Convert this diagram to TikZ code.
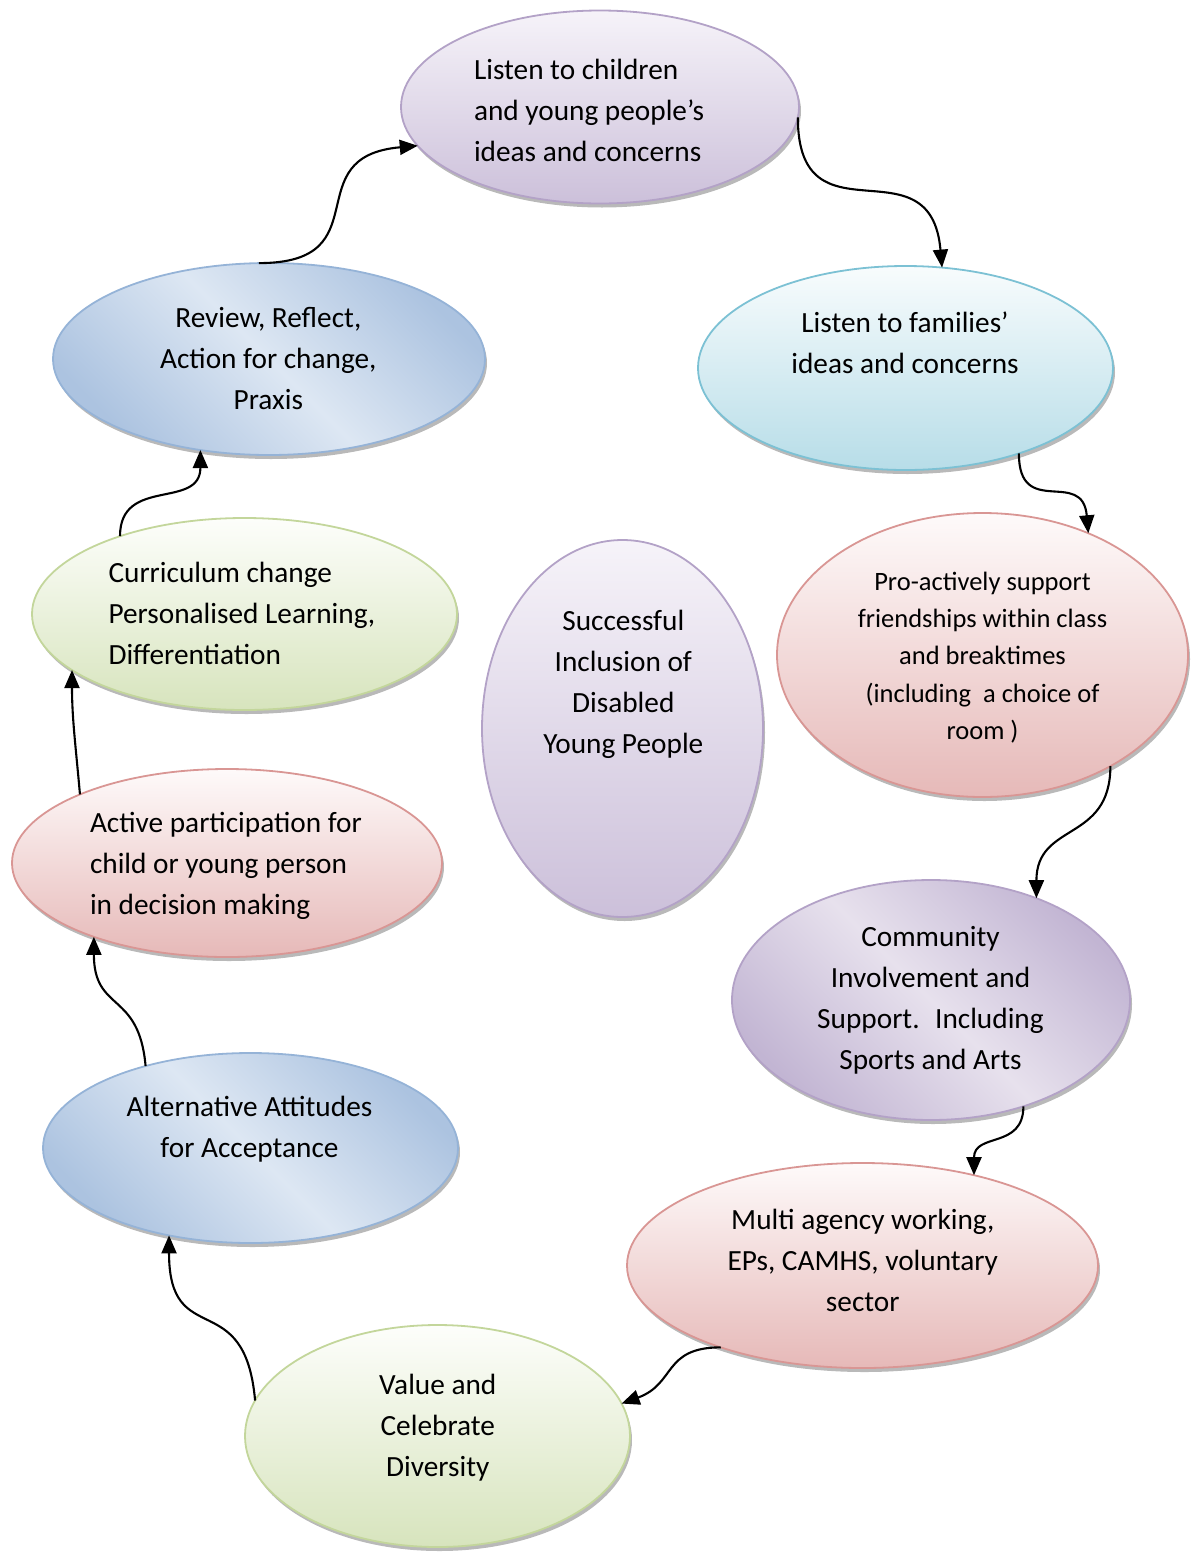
\documentclass[tikz,border=0pt]{standalone}
\usepackage{fontspec}
\setmainfont{Carlito}
\usetikzlibrary{shapes.geometric,arrows.meta,shadows}
\definecolor{purB}{RGB}{179,162,199}
\definecolor{purT}{RGB}{246,243,249}
\definecolor{purD}{RGB}{204,192,218}
\definecolor{purM}{RGB}{231,225,237}
\definecolor{purE}{RGB}{194,181,211}
\definecolor{cyaB}{RGB}{124,193,212}
\definecolor{cyaT}{RGB}{248,252,253}
\definecolor{cyaD}{RGB}{183,221,232}
\definecolor{pinB}{RGB}{217,150,148}
\definecolor{pinT}{RGB}{254,250,250}
\definecolor{pinD}{RGB}{230,185,184}
\definecolor{grnB}{RGB}{195,214,155}
\definecolor{grnT}{RGB}{253,254,251}
\definecolor{grnD}{RGB}{215,228,189}
\definecolor{bluB}{RGB}{149,179,215}
\definecolor{bluM}{RGB}{221,231,243}
\definecolor{bluE}{RGB}{172,195,224}
\begin{document}
\begin{tikzpicture}[x=1pt,y=1pt,
  ell/.style={ellipse,inner sep=0pt,outer sep=0pt,line width=1.8pt,
    general shadow={fill=black!55,opacity=0.5,shadow xshift=2pt,shadow yshift=-4pt}},
  purV/.style={ell,draw=purB,top color=purT,bottom color=purD},
  purG/.style={ell,draw=purB,top color=purE,bottom color=purE,middle color=purM,shading angle=-45},
  cyaV/.style={ell,draw=cyaB,top color=cyaT,bottom color=cyaD},
  pinV/.style={ell,draw=pinB,top color=pinT,bottom color=pinD},
  grnV/.style={ell,draw=grnB,top color=grnT,bottom color=grnD},
  bluG/.style={ell,draw=bluB,top color=bluE,bottom color=bluE,middle color=bluM,shading angle=-45},
  txt/.style={inner sep=0pt,outer sep=0pt,font=\fontsize{29.3}{41}\selectfont,align=center,anchor=north},
  txtl/.style={txt,align=left,anchor=north west},
  txts/.style={txt,font=\fontsize{26.5}{37.4}\selectfont},
  conn/.style={line width=2.1pt,-{Triangle[length=18pt,width=15pt]}}
]
\useasboundingbox (0,0) rectangle (1194,-1553);

% ellipses
\node[purV,minimum width=398pt,minimum height=193pt] (A) at (600,-107) {};
\node[cyaV,minimum width=415pt,minimum height=204pt] (B) at (905.5,-368) {};
\node[pinV,minimum width=411pt,minimum height=284pt] (C) at (982.5,-655) {};
\node[purG,minimum width=398pt,minimum height=240pt] (D) at (931,-1000) {};
\node[pinV,minimum width=471pt,minimum height=205pt] (E) at (862.5,-1265.5) {};
\node[grnV,minimum width=385pt,minimum height=222pt] (F) at (437.5,-1436) {};
\node[bluG,minimum width=415pt,minimum height=190pt] (G) at (250.5,-1148) {};
\node[pinV,minimum width=430pt,minimum height=188pt] (H) at (227,-863) {};
\node[grnV,minimum width=425pt,minimum height=192pt] (I) at (244.5,-614) {};
\node[bluG,minimum width=432pt,minimum height=192pt] (J) at (269,-359) {};
\node[purV,minimum width=281pt,minimum height=377pt] (K) at (622.5,-728.5) {};

% texts
\node[txtl] (tA) at (474,-54) {\rule{0pt}{25pt}Listen to children\\and young people’s\\ideas and concerns};
\node[txt] (tB) at (905,-307) {\rule{0pt}{25pt}Listen to families’\\ideas and concerns};
\node[txts] (tC) at (982.5,-565) {\rule{0pt}{25pt}Pro-actively support\\friendships within class\\and breaktimes\\(including~ a choice of\\room )};
\node[txt] (tD) at (930.5,-921) {\rule{0pt}{25pt}Community\\Involvement and\\Support.~ Including\\Sports and Arts};
\node[txt] (tE) at (862.8,-1204) {\rule{0pt}{25pt}Multi agency working,\\EPs, CAMHS, voluntary\\sector};
\node[txt] (tF) at (437.8,-1369) {\rule{0pt}{25pt}Value and\\Celebrate\\Diversity};
\node[txt] (tG) at (249.5,-1091.7) {\rule{0pt}{25pt}Alternative Attitudes\\for Acceptance};
\node[txtl] (tH) at (90,-807.7) {\rule{0pt}{25pt}Active participation for\\child or young person\\in decision making};
\node[txtl] (tI) at (108.5,-557.7) {\rule{0pt}{25pt}Curriculum change\\Personalised Learning,\\Differentiation};
\node[txt] (tJ) at (268.3,-302.7) {\rule{0pt}{25pt}Review, Reflect,\\Action for change,\\Praxis};
\node[txt] (tK) at (623.3,-605) {\rule{0pt}{25pt}Successful\\Inclusion of\\Disabled\\Young People};

% connectors
\draw[conn] (A.-3) to[out=-90,in=95,looseness=1.6] (B.70);
\draw[conn] (B.-37) to[out=-90,in=95,looseness=1.6] (C.49);
\draw[conn] (C.-41.5) to[out=-90,in=90,looseness=1.3] (D.44);
\draw[conn] (D.-49) to[out=-90,in=90,looseness=1.3] (E.39);
\draw[conn] (E.210) to[out=180,in=20,looseness=1.3] (F.10.7);
\draw[conn] (F.169.5) to[out=95,in=-90,looseness=1.6] (G.227);
\draw[conn] (G.142) to[out=95,in=-90,looseness=1.4] (H.209.6);
\draw[conn] (H.155.6) to[out=95,in=-90] (I.198);
\draw[conn] (I.148) to[out=90,in=-90,looseness=1.3] (J.233);
\draw[conn] (J.96.7) to[out=0,in=185,looseness=1.6] (A.192.8);
\end{tikzpicture}
\end{document}
